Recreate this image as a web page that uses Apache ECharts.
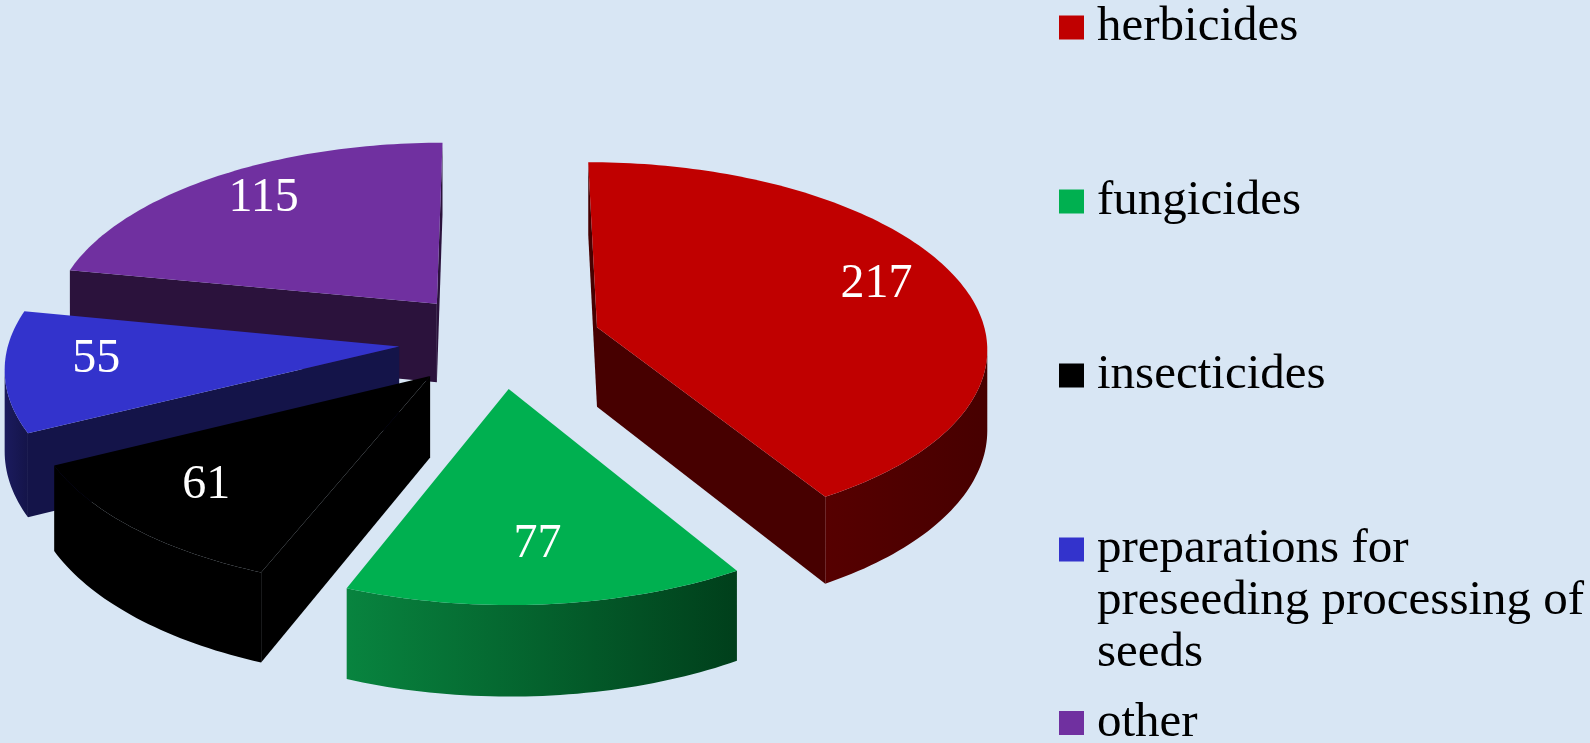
<!DOCTYPE html>
<html>
<head>
<meta charset="utf-8">
<title>Pesticides</title>
<script src="https://cdn.jsdelivr.net/npm/echarts@6/dist/echarts.min.js"></script>
<style>
  html, body { margin: 0; padding: 0; background: #d8e6f4; }
  #chart { width: 1590px; height: 743px; }
</style>
</head>
<body>
<div id="chart"></div>
<script>
// values as labelled on the slices
const categories = ['herbicides', 'fungicides', 'insecticides', 'preparations for\npreseeding processing of\nseeds', 'other'];
const values = [217, 77, 61, 55, 115];

// colours: top face, wall (light -> dark)
const topColors = ['#c00000', '#00b050', '#000000', '#3333cc', '#7030a0'];
const wallColors = [
    ['#560000', '#470000'],
    ['#08843f', '#003f1b'],
    ['#000000', '#000000'],
    ['#1b1b5e', '#141449'],
    ['#341748', '#2b123c']
];

const FONT = "'Liberation Serif', 'Times New Roman', serif";

// 3d pie geometry in px
const CX = 500, CY = 340, RX = 390, RY = 184, THICK = 80, PERSP = 0.1, EXPLODE = 0.26;

const total = values.reduce((a, b) => a + b, 0);
const starts = [];
values.reduce((acc, v) => { starts.push(acc); return acc + v; }, 0);

function toRad(v) { return v / total * Math.PI * 2; }

// X right, Z away from viewer (both in radius units), down = 0 top / 1 bottom
function proj(X, Z, down) {
    const s = 1 / (1 + PERSP * Z);
    return [CX + RX * X * s, CY - RY * Z * s + THICK * down * s];
}

// >0 when polygon is clockwise on screen, i.e. faces the viewer
function area(pts) {
    let a = 0;
    for (let i = 0; i < pts.length; i++) {
        const p = pts[i], q = pts[(i + 1) % pts.length];
        a += p[0] * q[1] - q[0] * p[1];
    }
    return a;
}

function midAngle(i) {
    return toRad(starts[i]) + toRad(values[i]) / 2;
}

// back slices first
const depthRank = values.map((v, i) => i)
    .sort((a, b) => (Math.cos(midAngle(b))) - (Math.cos(midAngle(a))));

function renderSlice(params, api) {
    const i = params.seriesIndex;
    const a0 = toRad(starts[i]);
    const a1 = a0 + toRad(api.value(0));
    const mid = (a0 + a1) / 2;
    const ex = EXPLODE * Math.sin(mid), ez = EXPLODE * Math.cos(mid);
    const pt = (r, a, down) => proj(ex + r * Math.sin(a), ez + r * Math.cos(a), down);

    const steps = Math.max(8, Math.ceil((a1 - a0) / 0.02));
    const angs = [];
    for (let k = 0; k <= steps; k++) angs.push(a0 + (a1 - a0) * k / steps);

    const wallFill = {
        type: 'linear', x: 0, y: 0, x2: 1, y2: 0,
        colorStops: [{ offset: 0, color: wallColors[i][0] }, { offset: 1, color: wallColors[i][1] }]
    };
    const children = [];

    // radial cut faces
    const apexT = pt(0, mid, 0), apexB = pt(0, mid, 1);
    const face0 = [pt(1, a0, 0), apexT, apexB, pt(1, a0, 1)];
    const face1 = [apexT, pt(1, a1, 0), pt(1, a1, 1), apexB];
    [face0, face1].forEach(f => {
        if (area(f) > 0) {
            children.push({ type: 'polygon', z2: 1, shape: { points: f }, style: { fill: wallColors[i][1] } });
        }
    });

    // outer wall, only the part turned to the viewer
    let run = [];
    const flush = () => {
        if (run.length > 1) {
            const top = run.map(a => pt(1, a, 0));
            const bot = run.slice().reverse().map(a => pt(1, a, 1));
            children.push({ type: 'polygon', z2: 1, shape: { points: top.concat(bot) }, style: { fill: wallFill } });
        }
        run = [];
    };
    for (let k = 0; k < steps; k++) {
        const q = [pt(1, angs[k + 1], 0), pt(1, angs[k], 0), pt(1, angs[k], 1), pt(1, angs[k + 1], 1)];
        if (area(q) > 0) {
            if (!run.length) run.push(angs[k]);
            run.push(angs[k + 1]);
        } else {
            flush();
        }
    }
    flush();

    // top face
    const topPts = [apexT].concat(angs.map(a => pt(1, a, 0)));
    children.push({ type: 'polygon', z2: 2, shape: { points: topPts }, style: { fill: topColors[i] } });

    // value label
    const lp = pt(0.77, mid, 0);
    children.push({
        type: 'text', z2: 3, x: lp[0], y: lp[1] - 6,
        style: {
            text: String(api.value(0)), fill: '#ffffff', fontSize: 48, fontFamily: FONT,
            align: 'center', verticalAlign: 'middle'
        }
    });

    return { type: 'group', children: children };
}

const legendText = { fontFamily: FONT, fontSize: 49, lineHeight: 52, color: '#000', padding: [0, 0, 0, 8] };

function legendBlock(names, top, formatter) {
    return {
        orient: 'vertical', left: 1059, top: top, padding: 0,
        itemWidth: 25, itemHeight: 24, itemGap: 122, icon: 'rect',
        selectedMode: false, textStyle: legendText,
        formatter: formatter || '{name}',
        data: names
    };
}

const option = {
    backgroundColor: '#d8e6f4',
    animation: false,
    legend: [
        legendBlock(categories.slice(0, 3), 1.5),
        // three-line entry: two blank lines on top so the first line sits beside the square
        legendBlock([categories[3]], 419.5, name => '\n\n' + name),
        legendBlock([categories[4]], 697)
    ],
    series: categories.map((name, i) => ({
        type: 'custom',
        name: name,
        coordinateSystem: 'none',
        z: 2 + depthRank.indexOf(i),
        itemStyle: { color: topColors[i] },
        renderItem: renderSlice,
        data: [[values[i]]]
    }))
};

const chart = echarts.init(document.getElementById('chart'));
chart.setOption(option);
</script>
</body>
</html>
